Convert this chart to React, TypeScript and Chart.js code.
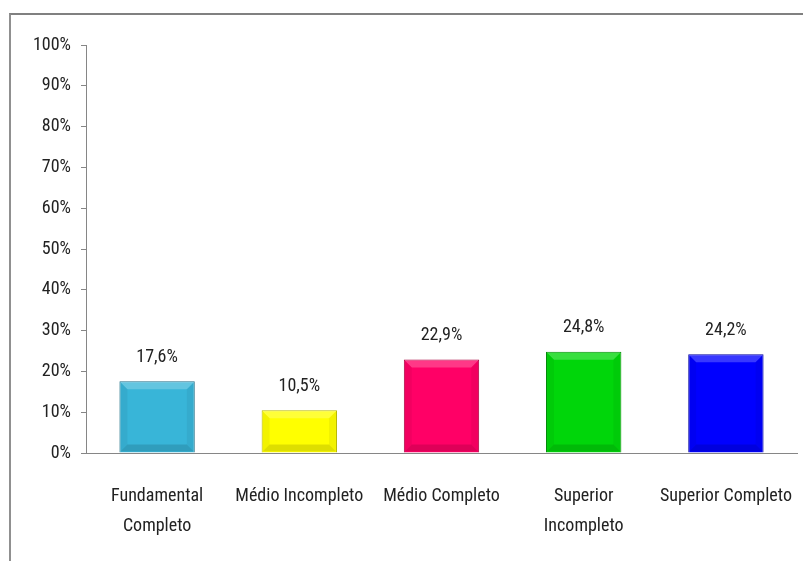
import React, { useEffect, useRef } from "react";
import { Chart, registerables } from "chart.js";

Chart.register(...registerables);

const categories: string[][] = [
  ["Fundamental", "Completo"],
  ["Médio Incompleto"],
  ["Médio Completo"],
  ["Superior", "Incompleto"],
  ["Superior Completo"],
];
const values: number[] = [17.6, 10.5, 22.9, 24.8, 24.2];
const barColors: string[] = ["#38B5D8", "#FFFF00", "#FF0066", "#00D60A", "#0000FF"];
const borderColors: string[] = ["#1F6F88", "#B8B800", "#A8003F", "#008A06", "#0000A0"];
const yTicks: number[] = [0, 10, 20, 30, 40, 50, 60, 70, 80, 90, 100];

const FONT = "'Roboto Condensed', 'DejaVu Sans Condensed', sans-serif";

const bevel = {
  id: "bevel",
  afterDatasetsDraw(chart: any) {
    const ctx = chart.ctx;
    const meta = chart.getDatasetMeta(0);
    const b = 7;
    ctx.save();
    meta.data.forEach((bar: any) => {
      const l = bar.x - bar.width / 2 + 1;
      const r = bar.x + bar.width / 2 - 1;
      const t = bar.y + 1;
      const bt = bar.base - 1;
      ctx.fillStyle = "rgba(255,255,255,0.22)";
      ctx.beginPath();
      ctx.moveTo(l, t);
      ctx.lineTo(r, t);
      ctx.lineTo(r - b, t + b);
      ctx.lineTo(l + b, t + b);
      ctx.closePath();
      ctx.fill();
      ctx.fillStyle = "rgba(0,0,0,0.05)";
      ctx.beginPath();
      ctx.moveTo(l, t);
      ctx.lineTo(l + b, t + b);
      ctx.lineTo(l + b, bt - b);
      ctx.lineTo(l, bt);
      ctx.closePath();
      ctx.fill();
      ctx.beginPath();
      ctx.moveTo(r, t);
      ctx.lineTo(r - b, t + b);
      ctx.lineTo(r - b, bt - b);
      ctx.lineTo(r, bt);
      ctx.closePath();
      ctx.fill();
      ctx.fillStyle = "rgba(0,0,0,0.13)";
      ctx.beginPath();
      ctx.moveTo(l, bt);
      ctx.lineTo(r, bt);
      ctx.lineTo(r - b, bt - b);
      ctx.lineTo(l + b, bt - b);
      ctx.closePath();
      ctx.fill();
    });
    ctx.restore();
  },
};

const valueLabels = {
  id: "valueLabels",
  afterDatasetsDraw(chart: any) {
    const ctx = chart.ctx;
    const meta = chart.getDatasetMeta(0);
    ctx.save();
    ctx.font = `18px ${FONT}`;
    ctx.fillStyle = "#222222";
    ctx.textAlign = "center";
    ctx.textBaseline = "middle";
    meta.data.forEach((bar: any, i: number) => {
      const txt = values[i].toFixed(1).replace(".", ",") + "%";
      ctx.fillText(txt, bar.x, bar.y - 24);
    });
    ctx.restore();
  },
};

export default function App() {
  const ref = useRef<HTMLCanvasElement | null>(null);
  useEffect(() => {
    if (!ref.current) return;
    const chart = new Chart(ref.current, {
      type: "bar",
      data: {
        labels: categories,
        datasets: [
          {
            data: values,
            backgroundColor: barColors,
            borderColor: borderColors,
            borderWidth: 1,
            categoryPercentage: 1,
            barPercentage: 0.53,
          },
        ],
      },
      options: {
        animation: false,
        responsive: false,
        layout: { padding: { top: 45, right: 6, left: 0, bottom: 0 } },
        plugins: { legend: { display: false }, tooltip: { enabled: false } },
        scales: {
          x: {
            grid: { display: false },
            border: { display: true, color: "#868686", width: 1 },
            ticks: {
              color: "#222222",
              font: { family: FONT, size: 18, lineHeight: 1.65 },
              padding: 21,
              maxRotation: 0,
              autoSkip: false,
            },
            afterFit: (s: any) => {
              s.height = 108;
              s.paddingLeft = 0;
              s.paddingRight = 0;
            },
          },
          y: {
            min: 0,
            max: 100,
            afterBuildTicks: (s: any) => {
              s.ticks = yTicks.map((v) => ({ value: v }));
            },
            grid: { drawOnChartArea: false, drawTicks: true, tickLength: 5, color: "#868686" },
            border: { display: true, color: "#868686", width: 1 },
            ticks: {
              color: "#222222",
              font: { family: FONT, size: 18 },
              padding: 10,
              callback: (v: any) => `${v}%`,
            },
            afterFit: (s: any) => {
              s.width = 86;
            },
          },
        },
      },
      plugins: [bevel, valueLabels],
    });
    return () => chart.destroy();
  }, []);
  return (
    <div style={{ position: "fixed", left: 0, top: 0, width: 803, height: 561, background: "#fff" }}>
      <div
        style={{
          position: "absolute",
          left: 9,
          top: 13,
          width: 794,
          height: 548,
          borderTop: "2px solid #808080",
          borderLeft: "2px solid #909090",
          boxSizing: "border-box",
        }}
      />
      <canvas ref={ref} width={803} height={561} style={{ position: "absolute", left: 0, top: 0 }} />
    </div>
  );
}
